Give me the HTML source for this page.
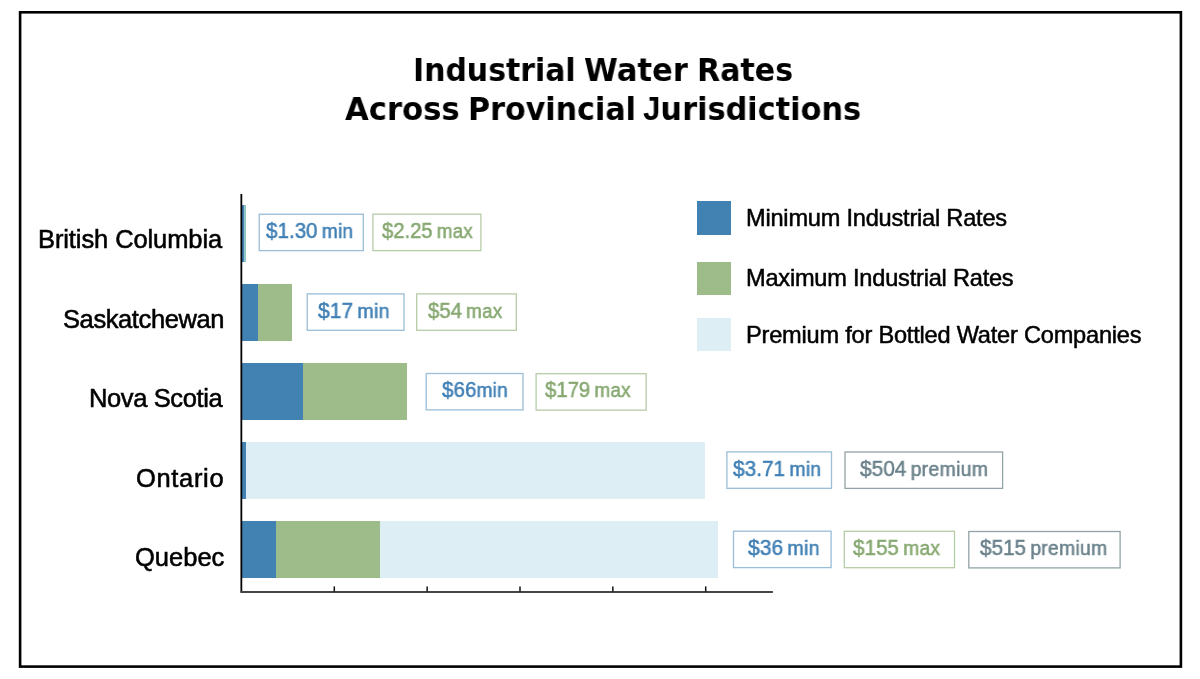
<!DOCTYPE html>
<html>
<head>
<meta charset="utf-8">
<style>
html,body{margin:0;padding:0;background:#fff;}
body{width:1200px;height:679px;position:relative;overflow:hidden;font-family:"Liberation Sans",Arial,sans-serif;}
.a{position:absolute;}
#wrap{position:absolute;left:0;top:0;width:1200px;height:679px;background:#fff;}
.tw,.lbl,.bt,.leg{will-change:transform;}
.tw{position:absolute;transform-origin:0 0;font-family:"DejaVu Sans",sans-serif;font-weight:bold;font-size:32px;line-height:32px;color:#000;white-space:nowrap;}
.lbl{position:absolute;right:977px;font-size:25.5px;line-height:25px;-webkit-text-stroke:0.55px #000;color:#000;white-space:nowrap;text-align:right;}
.bar{position:absolute;}
.b{background:#4282b2;}
.g{background:#9ebc89;}
.p{background:#deeef5;}
.bt{position:absolute;transform-origin:0 0;font-size:21.5px;line-height:37px;white-space:nowrap;-webkit-text-stroke:0.5px currentColor;}
.bx{color:#3f7fb4;}
.lw{font-size:20px;letter-spacing:0.3px;word-spacing:-1.5px;}
.gx{color:#86a870;}
.px{color:#6a818b;}
.sq{position:absolute;left:697px;width:34px;height:33.5px;}
.leg{position:absolute;left:745.6px;font-size:23.6px;line-height:24px;color:#000;white-space:nowrap;letter-spacing:-0.22px;-webkit-text-stroke:0.5px #000;}
</style>
</head>
<body>
<div id="wrap">

<div class="tw" style="left:413.00px;top:54px;transform:scaleX(0.9345);">Industrial</div>
<div class="tw" style="left:584.04px;top:54px;transform:scaleX(0.9579);">Water</div>
<div class="tw" style="left:697.18px;top:54px;transform:scaleX(0.9388);">Rates</div>
<div class="tw" style="left:345.25px;top:93px;transform:scaleX(0.9589);">Across</div>
<div class="tw" style="left:468.42px;top:93px;transform:scaleX(0.9422);">Provincial</div>
<div class="tw" style="left:643.05px;top:93px;transform:scaleX(0.9493);"><span style="font-family:'Liberation Sans',sans-serif;font-size:33px;">J</span>urisdictions</div>

<!-- bars -->
<div class="bar b" style="left:242px;top:205px;width:1.70px;height:56.7px;"></div>
<div class="bar " style="left:243.7px;top:205px;width:2.20px;height:56.7px;background:#93c6c8;"></div>
<div class="bar b" style="left:242px;top:284.1px;width:15.90px;height:56.7px;"></div>
<div class="bar g" style="left:257.9px;top:284.1px;width:33.90px;height:56.7px;"></div>
<div class="bar b" style="left:242px;top:363.1px;width:61.40px;height:56.7px;"></div>
<div class="bar g" style="left:303.4px;top:363.1px;width:103.40px;height:56.7px;"></div>
<div class="bar b" style="left:242px;top:442.35px;width:3.90px;height:56.7px;"></div>
<div class="bar p" style="left:245.9px;top:442.35px;width:459.10px;height:56.7px;"></div>
<div class="bar b" style="left:242px;top:521.3px;width:33.90px;height:56.7px;"></div>
<div class="bar g" style="left:275.9px;top:521.3px;width:104.40px;height:56.7px;"></div>
<div class="bar p" style="left:380.3px;top:521.3px;width:337.60px;height:56.7px;"></div>

<!-- axes -->
<svg class="a" style="left:0;top:0;" width="1200" height="679" viewBox="0 0 1200 679">
<rect x="20.1" y="12.3" width="1160.8" height="654.3" fill="none" stroke="#000" stroke-width="2.6"/>
<line x1="241.35" y1="193.9" x2="241.35" y2="592.6" stroke="#000" stroke-width="1.8"/>
<line x1="240.5" y1="592" x2="772.9" y2="592" stroke="#444" stroke-width="1.9"/>
<line x1="334.30" y1="586.4" x2="334.30" y2="591.5" stroke="#111" stroke-width="1.5"/><line x1="427.15" y1="586.4" x2="427.15" y2="591.5" stroke="#111" stroke-width="1.5"/><line x1="520.00" y1="586.4" x2="520.00" y2="591.5" stroke="#111" stroke-width="1.5"/><line x1="612.85" y1="586.4" x2="612.85" y2="591.5" stroke="#111" stroke-width="1.5"/><line x1="705.70" y1="586.4" x2="705.70" y2="591.5" stroke="#111" stroke-width="1.5"/>
</svg>

<!-- labels -->
<div class="lbl" id="l_bc" style="top:227px;letter-spacing:-0.1px;margin-right:0.9px;">British Columbia</div>
<div class="lbl" id="l_sk" style="top:306.5px;letter-spacing:-0.4px;margin-right:-0.6px;">Saskatchewan</div>
<div class="lbl" id="l_ns" style="top:385.5px;letter-spacing:-0.39px;margin-right:0.8px;">Nova Scotia</div>
<div class="lbl" id="l_on" style="top:465.5px;letter-spacing:0.67px;margin-right:-1.6px;">Ontario</div>
<div class="lbl" id="l_qc" style="top:544.5px;margin-right:-1px;">Quebec</div>

<!-- value boxes -->
<svg class="a" style="left:0;top:0;" width="1200" height="679"><rect x="259.20" y="214.20" width="104.10" height="36.4" fill="none" stroke="#9abdd8" stroke-width="1.3"/><rect x="372.90" y="214.20" width="108.00" height="36.4" fill="none" stroke="#b6cca7" stroke-width="1.3"/><rect x="307.20" y="293.90" width="96.80" height="36.4" fill="none" stroke="#9abdd8" stroke-width="1.3"/><rect x="416.70" y="293.90" width="99.60" height="36.4" fill="none" stroke="#b6cca7" stroke-width="1.3"/><rect x="426.20" y="373.50" width="96.80" height="36.4" fill="none" stroke="#9abdd8" stroke-width="1.3"/><rect x="536.10" y="373.70" width="110.10" height="36.4" fill="none" stroke="#b6cca7" stroke-width="1.3"/><rect x="726.90" y="451.90" width="104.60" height="36.4" fill="none" stroke="#9abdd8" stroke-width="1.3"/><rect x="845.00" y="452.00" width="157.60" height="36.4" fill="none" stroke="#93a2a7" stroke-width="1.3"/><rect x="733.50" y="531.20" width="97.60" height="36.4" fill="none" stroke="#9abdd8" stroke-width="1.3"/><rect x="844.30" y="531.30" width="110.20" height="36.4" fill="none" stroke="#b6cca7" stroke-width="1.3"/><rect x="968.80" y="531.50" width="151.30" height="36.4" fill="none" stroke="#93a2a7" stroke-width="1.3"/></svg>
<div class="bt bx" id="t_bc1" style="left:266.40px;top:212.50px;letter-spacing:0.000px;transform:scaleX(0.9578);">$1.30<span class="lw"> min</span></div>
<div class="bt gx" id="t_bc2" style="left:382.30px;top:212.50px;letter-spacing:0.000px;transform:scaleX(0.9399);">$2.25<span class="lw"> max</span></div>
<div class="bt bx" id="t_sk1" style="left:318.10px;top:293.00px;letter-spacing:0.000px;transform:scaleX(0.9777);">$17<span class="lw"> min</span></div>
<div class="bt gx" id="t_sk2" style="left:427.60px;top:293.00px;letter-spacing:0.000px;transform:scaleX(0.9451);">$54<span class="lw"> max</span></div>
<div class="bt bx" id="t_ns1" style="left:442.00px;top:371.80px;letter-spacing:0.000px;transform:scaleX(0.9579);">$66<span class="lw">min</span></div>
<div class="bt gx" id="t_ns2" style="left:544.70px;top:372.00px;letter-spacing:0.000px;transform:scaleX(0.9455);">$179<span class="lw"> max</span></div>
<div class="bt bx" id="t_on1" style="left:732.60px;top:450.60px;letter-spacing:0.000px;transform:scaleX(0.9685);">$3.71<span class="lw"> min</span></div>
<div class="bt px" id="t_on2" style="left:859.60px;top:450.70px;letter-spacing:0.000px;transform:scaleX(0.9703);">$504<span class="lw"> premium</span></div>
<div class="bt bx" id="t_qc1" style="left:747.60px;top:529.50px;letter-spacing:0.000px;transform:scaleX(0.9783);">$36<span class="lw"> min</span></div>
<div class="bt gx" id="t_qc2" style="left:853.10px;top:529.60px;letter-spacing:0.000px;transform:scaleX(0.9608);">$155<span class="lw"> max</span></div>
<div class="bt px" id="t_qc3" style="left:980.10px;top:529.80px;letter-spacing:0.000px;transform:scaleX(0.9639);">$515<span class="lw"> premium</span></div>

<!-- legend -->
<div class="sq b" style="top:201.3px;"></div>
<div class="sq g" style="top:261.8px;"></div>
<div class="sq p" style="top:317.8px;"></div>
<div class="leg" id="g1" style="top:206px;">Minimum Industrial Rates</div>
<div class="leg" id="g2" style="top:266px;">Maximum Industrial Rates</div>
<div class="leg" id="g3" style="top:323px;">Premium for Bottled Water Companies</div>
</div>
</body>
</html>
